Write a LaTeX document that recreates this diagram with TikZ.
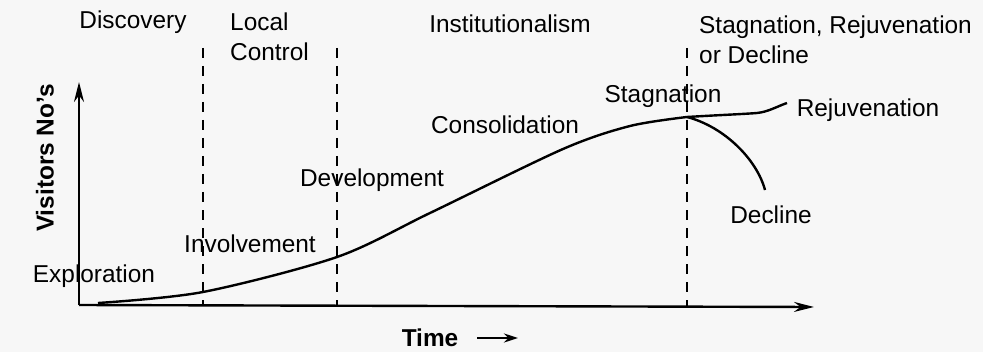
\documentclass[tikz,border=0pt]{standalone}
\usepackage{fontspec}
\setmainfont{Liberation Sans}
\usetikzlibrary{positioning}
\usetikzlibrary{arrows.meta}

\begin{document}
\begin{tikzpicture}[x=0.5pt, y=-0.5pt, line width=1.2pt,
    lbl/.style={inner sep=0pt, font=\fontsize{12.2}{15}\selectfont},
    bold/.style={inner sep=0pt, font=\fontsize{12.2}{15}\selectfont\bfseries},
    phase/.style={dash pattern=on 5pt off 4pt, line width=1pt}]
    \fill[black!3] (0,0) rectangle (983,352);
    \useasboundingbox (0,0) rectangle (983,352);

    % phase headings
    \node[lbl] (Disc) at (133,22) {Discovery};
    \node[lbl, align=left, anchor=west] (Loc) at (229,37) {Local\\Control};
    \node[lbl] (Inst) at (510,24) {Institutionalism};
    \node[lbl, align=left, anchor=west] (SRD) at (698,40) {Stagnation, Rejuvenation\\or Decline};

    % stages
    \node[lbl] (Expl) at (94,276) {Exploration};
    \node[lbl] (Invo) at (250,244) {Involvement};
    \node[lbl] (Deve) at (372,180) {Development};
    \node[lbl] (Cons) at (505,125) {Consolidation};
    \node[lbl] (Stag) at (663,96) {Stagnation};
    \node[lbl] (Reju) at (868,110) {Rejuvenation};
    \node[lbl] (Decl) at (771,215) {Decline};

    % axes
    \node[bold, rotate=90] (Visi) at (45,158) {Visitors No's};
    \node[bold] (Time) at (430,338) {Time};
    \coordinate (O) at (79,305);
    \coordinate (Ytop) at (79,82);
    \coordinate (Xend) at (814,307);
    \coordinate (Tarr) at (518,338);
    \draw [-{Stealth[length=10pt, width=5pt]}] (O) -- (Ytop);
    \draw [-{Stealth[length=10pt, width=5pt]}] (O) -- (Xend);
    \draw [-{Stealth[length=7pt, width=4.5pt]}] ([xshift=9pt]Time.east) -- (Tarr);

    % phase borders
    \foreach \x/\n in {203/a, 337/b, 687/c} {
        \coordinate (top\n) at (\x,48);
        \coordinate (bot\n) at (\x,306);
        \draw [phase] (top\n) -- (bot\n);
    }

    % life cycle curve
    \coordinate (Start) at (98,303);
    \coordinate (Peak) at (687,117);
    \coordinate (RejuEnd) at (787,103);
    \coordinate (DeclEnd) at (765,190);
    \draw plot[smooth] coordinates {(Start) (203,292) (337,257) (430,213) (563,149) (630,126) (Peak)};
    \draw (Peak) .. controls (720,115) and (745,114) .. (757,113)
                 .. controls (768,112) and (778,106) .. (RejuEnd);
    \draw (Peak) .. controls (725,127) and (757,160) .. (DeclEnd);
\end{tikzpicture}
\end{document}
